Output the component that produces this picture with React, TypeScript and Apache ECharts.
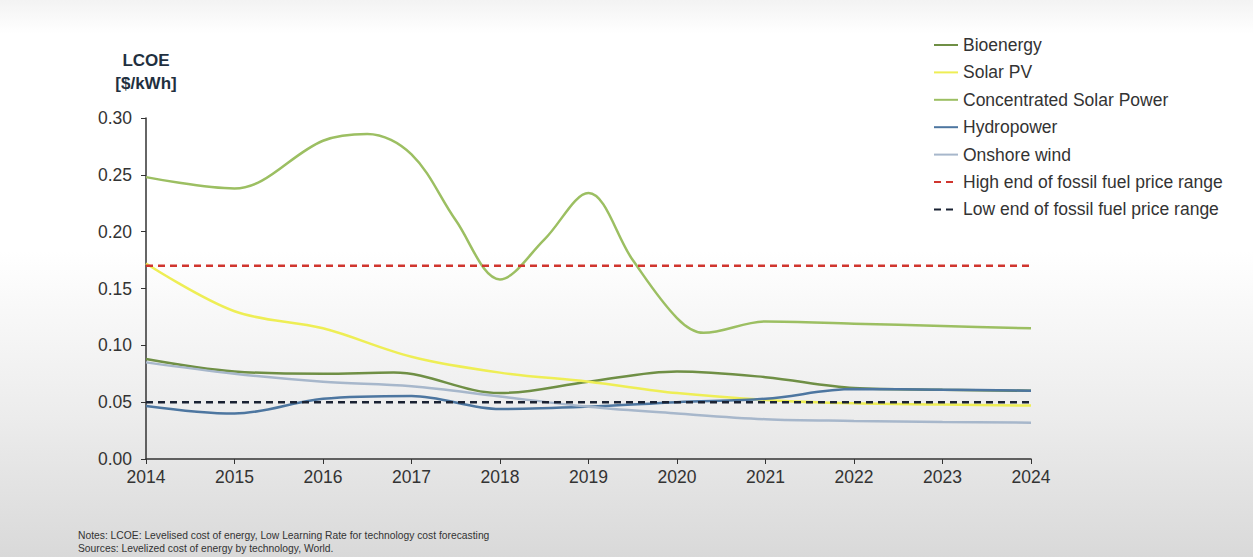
import React, { useEffect, useRef } from "react";
import * as echarts from "echarts";

const bioenergy: [number, number][] = [
  [2014, 0.088], [2015, 0.077], [2016, 0.075], [2016.8, 0.076], [2018, 0.058],
  [2019, 0.068], [2020, 0.077], [2021, 0.072], [2022, 0.0625], [2023, 0.061], [2024, 0.06],
];
const solarPV: [number, number][] = [
  [2014, 0.172], [2015, 0.13], [2016, 0.115], [2017, 0.09], [2018, 0.076],
  [2019, 0.068], [2020, 0.058], [2021, 0.052], [2022, 0.049], [2023, 0.048], [2024, 0.047],
];
const csp: [number, number][] = [
  [2014, 0.248], [2015, 0.238], [2016, 0.28], [2016.5, 0.286], [2017, 0.268],
  [2017.5, 0.21], [2018, 0.158], [2018.5, 0.193], [2019, 0.234], [2019.5, 0.175],
  [2020, 0.124], [2020.3, 0.111], [2021, 0.121], [2022, 0.119], [2023, 0.117], [2024, 0.115],
];
const hydropower: [number, number][] = [
  [2014, 0.0467], [2015, 0.04], [2016, 0.053], [2017, 0.0555], [2018, 0.044],
  [2019, 0.046], [2020, 0.05], [2021, 0.053], [2022, 0.0615], [2023, 0.061], [2024, 0.06],
];
const onshoreWind: [number, number][] = [
  [2014, 0.085], [2015, 0.075], [2016, 0.068], [2017, 0.064], [2018, 0.055],
  [2019, 0.046], [2020, 0.04], [2021, 0.035], [2022, 0.0335], [2023, 0.0325], [2024, 0.032],
];
const fossilHigh: [number, number][] = [[2014, 0.17], [2024, 0.17]];
const fossilLow: [number, number][] = [[2014, 0.05], [2024, 0.05]];

const seriesNames = [
  "Bioenergy",
  "Solar PV",
  "Concentrated Solar Power",
  "Hydropower",
  "Onshore wind",
  "High end of fossil fuel price range",
  "Low end of fossil fuel price range",
];
const notes = [
  "Notes: LCOE: Levelised cost of energy, Low Learning Rate for technology cost forecasting",
  "Sources: Levelized cost of energy by technology, World.",
];

const FONT = "'Liberation Sans', Arial, sans-serif";

export default function App() {
  const ref = useRef<HTMLDivElement>(null);
  useEffect(() => {
    if (!ref.current) return;
    const chart = echarts.init(ref.current, null, { renderer: "svg" });
    const line = (name: string, data: [number, number][], color: string, width = 2.5, dashed = false) => ({
      name,
      type: "line",
      data,
      smooth: dashed ? false : 0.35,
      showSymbol: false,
      symbol: "none",
      lineStyle: { color, width, type: dashed ? [7, 5] : "solid" },
      itemStyle: { color },
      z: dashed ? 3 : 2,
    });
    chart.setOption({
      animation: false,
      textStyle: { fontFamily: FONT },
      grid: { left: 146, right: 222, top: 118, bottom: 98 },
      legend: {
        orient: "vertical",
        left: 928,
        top: 31,
        itemWidth: 24,
        itemHeight: 12,
        itemGap: 9.4,
        data: seriesNames,
        itemStyle: { opacity: 0 },
        textStyle: { fontSize: 17.5, color: "#333", fontFamily: FONT },
      },
      xAxis: {
        type: "value",
        min: 2014,
        max: 2024,
        interval: 1,
        axisLine: { lineStyle: { color: "#333", width: 1.5 } },
        axisTick: { show: true, length: 5, lineStyle: { color: "#333" } },
        axisLabel: { fontSize: 17.5, color: "#333", margin: 9, formatter: (v: number) => String(v) },
        splitLine: { show: false },
      },
      yAxis: {
        type: "value",
        min: 0,
        max: 0.3,
        interval: 0.05,
        axisLine: { show: true, lineStyle: { color: "#333", width: 1.5 } },
        axisTick: { show: true, length: 5, lineStyle: { color: "#333" } },
        axisLabel: { fontSize: 17.5, color: "#333", margin: 14, formatter: (v: number) => v.toFixed(2) },
        splitLine: { show: false },
      },
      graphic: [
        {
          type: "text",
          x: 146,
          y: 49,
          style: {
            text: "LCOE\n[$/kWh]",
            fontSize: 17,
            fontWeight: "bold",
            fill: "#1f3040",
            align: "center",
            verticalAlign: "top",
            lineHeight: 23,
            fontFamily: FONT,
          },
        },
        {
          type: "text",
          left: 78,
          top: 529,
          style: {
            text: notes.join("\n"),
            fontSize: 10.3,
            lineHeight: 13,
            fill: "#333",
            fontFamily: FONT,
          },
        },
      ],
      series: [
        line(seriesNames[0], bioenergy, "#6f8f45"),
        line(seriesNames[1], solarPV, "#eeee55"),
        line(seriesNames[2], csp, "#9cbf62"),
        line(seriesNames[3], hydropower, "#4d76a0"),
        line(seriesNames[4], onshoreWind, "#a7b7cb"),
        line(seriesNames[5], fossilHigh, "#d0352e", 2.5, true),
        line(seriesNames[6], fossilLow, "#1a2233", 2.5, true),
      ],
    });
    return () => chart.dispose();
  }, []);
  return (
    <div
      style={{
        position: "fixed",
        left: 0,
        top: 0,
        width: 1253,
        height: 557,
        background: "linear-gradient(180deg, #f3f3f3 0%, #ffffff 6%, #ffffff 45%, #ececec 75%, #d9d9d9 100%)",
      }}
    >
      <div ref={ref} style={{ width: 1253, height: 557 }} />
    </div>
  );
}
